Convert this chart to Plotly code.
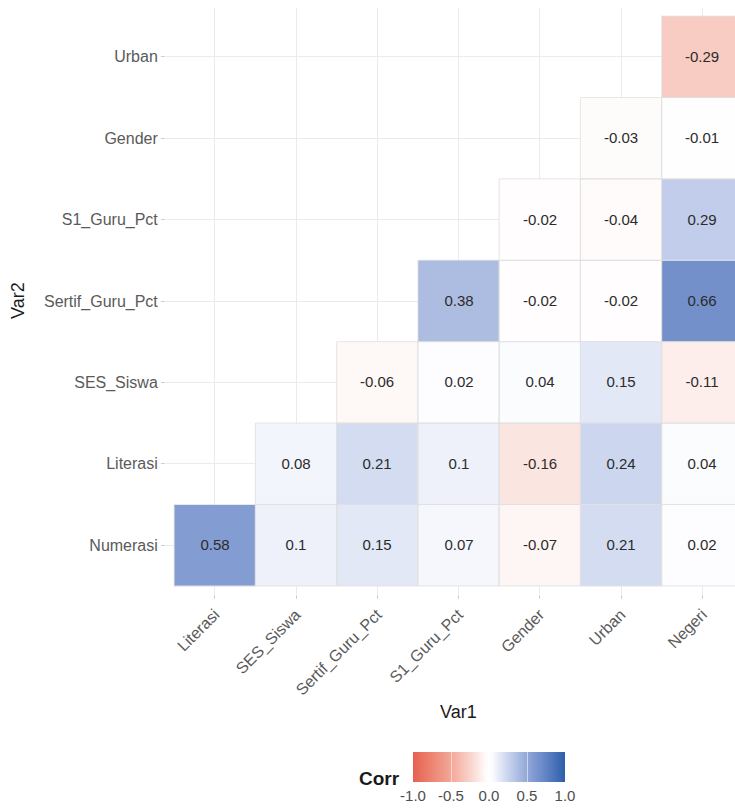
import plotly.graph_objects as go

# ---------------- data ----------------
x_labels = ["Literasi", "SES_Siswa", "Sertif_Guru_Pct", "S1_Guru_Pct", "Gender", "Urban", "Negeri"]
y_labels = ["Numerasi", "Literasi", "SES_Siswa", "Sertif_Guru_Pct", "S1_Guru_Pct", "Gender", "Urban"]

row_numerasi = [0.58, 0.1, 0.15, 0.07, -0.07, 0.21, 0.02]
row_literasi = [None, 0.08, 0.21, 0.1, -0.16, 0.24, 0.04]
row_ses_siswa = [None, None, -0.06, 0.02, 0.04, 0.15, -0.11]
row_sertif = [None, None, None, 0.38, -0.02, -0.02, 0.66]
row_s1 = [None, None, None, None, -0.02, -0.04, 0.29]
row_gender = [None, None, None, None, None, -0.03, -0.01]
row_urban = [None, None, None, None, None, None, -0.29]

colorbar_ticks = [-1.0, -0.5, 0.0, 0.5, 1.0]

z = [row_numerasi, row_literasi, row_ses_siswa, row_sertif, row_s1, row_gender, row_urban]
text = [["" if v is None else f"{v:g}" for v in row] for row in z]

colorscale = [
    [0.0, "rgb(230,96,80)"],
    [0.125, "rgb(237,133,114)"],
    [0.25, "rgb(243,167,151)"],
    [0.375, "rgb(249,211,203)"],
    [0.475, "rgb(254,250,249)"],
    [0.5, "rgb(255,255,255)"],
    [0.525, "rgb(250,251,254)"],
    [0.625, "rgb(202,212,238)"],
    [0.75, "rgb(146,168,215)"],
    [0.875, "rgb(98,131,197)"],
    [1.0, "rgb(45,94,170)"],
]

FONT = "Liberation Sans, Arial, Helvetica, sans-serif"

W, H = 735, 808
L, R, T, B = 166, 0, 8, 214
PW, PH = W - L - R, H - T - B
cell_px = 81.25
x_span = PW / cell_px

fig = go.Figure()
fig.add_trace(go.Heatmap(
    z=z,
    x=list(range(len(x_labels))),
    y=list(range(len(y_labels))),
    text=text,
    texttemplate="%{text}",
    textfont=dict(family=FONT, size=15, color="#2b2b2b"),
    colorscale=colorscale,
    zmin=-1, zmax=1,
    hoverongaps=False,
    colorbar=dict(
        orientation="h",
        xref="paper", yref="paper",
        x=(489 - L) / PW, xanchor="center",
        y=(594 - 752) / PH, yanchor="top",
        len=152, lenmode="pixels",
        thickness=30, thicknessmode="pixels",
        outlinewidth=0, xpad=0, ypad=0,
        tickvals=colorbar_ticks,
        ticktext=[f"{v:.1f}" for v in colorbar_ticks],
        ticks="inside", ticklen=30, tickwidth=1,
        tickcolor="rgba(255,255,255,0.55)",
        tickfont=dict(family=FONT, size=15, color="#4d4d4d"),
    ),
))

# light grey outline round each tile
shapes = []
for j, row in enumerate(z):
    for i, v in enumerate(row):
        if v is not None:
            shapes.append(dict(type="rect", xref="x", yref="y",
                               x0=i - 0.5, x1=i + 0.5, y0=j - 0.5, y1=j + 0.5,
                               line=dict(color="#e0e0e0", width=0.8),
                               fillcolor="rgba(0,0,0,0)", layer="above"))

fig.update_layout(
    width=W, height=H,
    margin=dict(l=L, r=R, t=T, b=B, autoexpand=False),
    paper_bgcolor="white", plot_bgcolor="white",
    font=dict(family=FONT),
    shapes=shapes,
    showlegend=False,
    annotations=[
        dict(text="Var1", xref="paper", yref="paper",
             x=(458 - L) / PW, y=(594 - 712) / PH,
             showarrow=False, xanchor="center", yanchor="middle",
             font=dict(family=FONT, size=18, color="#1a1a1a")),
        dict(text="Var2", xref="paper", yref="paper",
             x=(18 - L) / PW, y=0.5, textangle=-90,
             showarrow=False, xanchor="center", yanchor="middle",
             font=dict(family=FONT, size=18, color="#1a1a1a")),
        dict(text="<b>Corr</b>", xref="paper", yref="paper",
             x=(379 - L) / PW, y=(594 - 778) / PH,
             showarrow=False, xanchor="center", yanchor="middle",
             font=dict(family=FONT, size=19, color="#1a1a1a")),
    ],
)

fig.update_xaxes(
    range=[-0.6, -0.6 + x_span],
    tickvals=list(range(len(x_labels))), ticktext=x_labels,
    tickangle=-45,
    tickfont=dict(family=FONT, size=16, color="#5a5a5a"),
    showgrid=True, gridcolor="#ebebeb", gridwidth=0.8,
    zeroline=False, showline=False,
    ticks="outside", ticklen=4, tickcolor="#d0d0d0",
)
fig.update_yaxes(
    range=[-0.6, len(y_labels) - 0.4],
    tickvals=list(range(len(y_labels))), ticktext=y_labels,
    tickfont=dict(family=FONT, size=16, color="#5a5a5a"),
    showgrid=True, gridcolor="#ebebeb", gridwidth=0.8,
    zeroline=False, showline=False,
    ticks="outside", ticklen=4, tickcolor="#d0d0d0",
)

fig.write_html("out.html")
